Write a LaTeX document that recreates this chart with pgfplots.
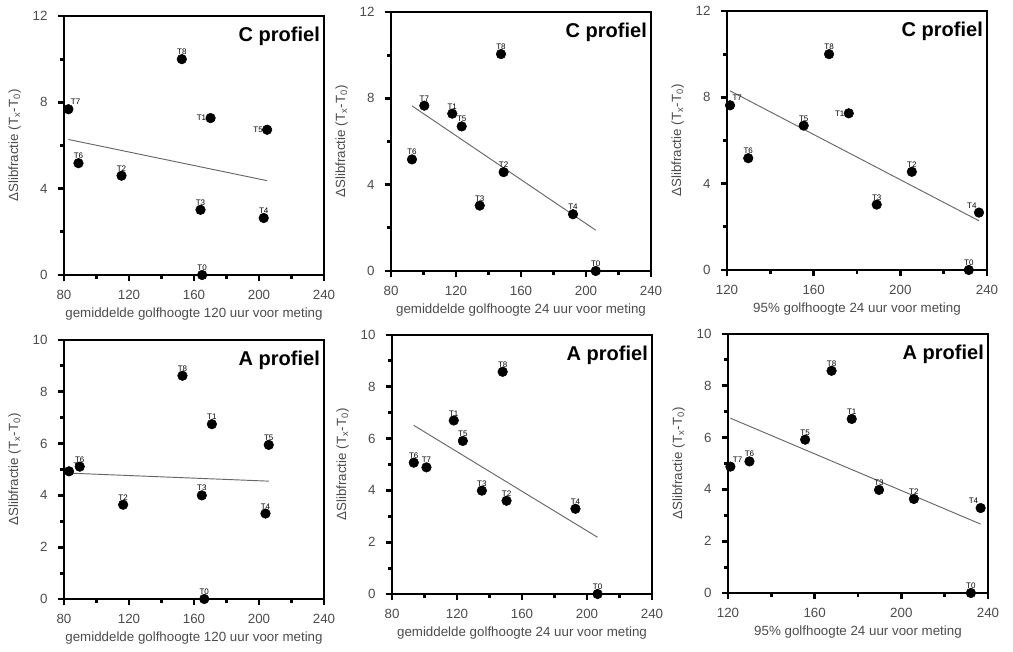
\documentclass[border=0pt]{standalone}
\usepackage{fontspec}
\setmainfont{Liberation Sans}
\usepackage{pgfplots}
\pgfplotsset{compat=1.18}
\definecolor{tickgray}{gray}{0.3}
\pgfplotsset{
 panel/.style={
  scale only axis, width=195pt, height=194.25pt,
  axis line style={line width=2.2pt},
  tick align=outside, xtick pos=bottom, ytick pos=left,
  major tick length=4.8pt, minor tick length=2.8pt,
  every tick/.style={line width=2.2pt, black},
  minor x tick num=1, minor y tick num=1,
  xtick={80,120,160,200,240},
  tick label style={font=\fontsize{10}{12}\selectfont, text=tickgray},
  xticklabel style={yshift=-3pt},
  yticklabel style={xshift=-4pt},
  /pgf/number format/assume math mode=true,
  label style={font=\fontsize{10}{12}\selectfont, text=tickgray},
  ylabel={ΔSlibfractie (T\textsubscript{x}-T\textsubscript{0})},
  ylabel style={at={(axis description cs:-0.19,0.5)}, anchor=center},
  xlabel style={at={(axis description cs:0.5,-0.152)}, anchor=center},
  clip=false,
  anchor=south west,
  after end axis/.append code={\draw[line width=2.2pt,black] (rel axis cs:0,0) rectangle (rel axis cs:1,1);},
 },
 ctop/.style={ymin=0,ymax=12,ytick={0,4,8,12}},
 abot/.style={ymin=0,ymax=10,ytick={0,2,4,6,8,10}},
 pts/.style={only marks, mark=*, mark size=3.6pt, black, mark options={line width=0.4pt},
   nodes near coords, point meta=explicit symbolic,
   visualization depends on={value \thisrow{anc}\as\myanc},
   nodes near coords style={anchor=\myanc, font=\fontsize{6}{6}\selectfont, text=black, inner sep=0.3pt, outer sep=3pt}},
 fitl/.style={black!60, line width=0.7pt, no markers},
}
\newcommand\ptitle[1]{\node[anchor=north east, font=\bfseries\fontsize{15}{15}\selectfont, inner sep=0pt] at (rel axis cs:0.985,0.96) {#1};}
\begin{document}
\begin{tikzpicture}
\path[use as bounding box] (0,0) rectangle (759.75pt,489pt);
% ---------- C, 120 uur
\begin{axis}[panel, ctop, at={(48pt,282.75pt)}, xmin=80, xmax=240,
  xlabel={gemiddelde golfhoogte 120 uur voor meting}]
\addplot[fitl] coordinates {(82.7,6.28) (205,4.37)};
\addplot[pts] table[x=x,y=y,meta=lab] {
x y lab anc
152.5 10.00 T8 270
82.7 7.68 T7 225
170.2 7.27 T1 0
205.0 6.73 T5 0
88.9 5.18 T6 270
115.4 4.60 T2 270
164.0 3.02 T3 270
202.9 2.64 T4 270
165.0 0.00 T0 270
};
\ptitle{C profiel}
\end{axis}
% ---------- C, 24 uur
\begin{axis}[panel, ctop, at={(293.25pt,285.75pt)}, xmin=80, xmax=240,
  xlabel={gemiddelde golfhoogte 24 uur voor meting}]
\addplot[fitl] coordinates {(92.9,7.65) (206,1.89)};
\addplot[pts] table[x=x,y=y,meta=lab] {
x y lab anc
147.7 10.05 T8 270
100.5 7.66 T7 270
117.7 7.29 T1 270
123.5 6.70 T5 270
92.9 5.17 T6 270
149.3 4.58 T2 270
134.6 3.03 T3 270
192.0 2.63 T4 270
206.0 0.00 T0 270
};
\ptitle{C profiel}
\end{axis}
% ---------- C, 95%
\begin{axis}[panel, ctop, at={(545.25pt,286.5pt)}, xmin=120, xmax=240,
  xtick={120,160,200,240},
  xlabel={95\% golfhoogte 24 uur voor meting}]
\addplot[fitl] coordinates {(121.4,8.30) (236.3,2.28)};
\addplot[pts] table[x=x,y=y,meta=lab] {
x y lab anc
167.1 10.00 T8 270
121.4 7.63 T7 225
176.2 7.26 T1 0
155.4 6.69 T5 270
129.8 5.18 T6 270
205.3 4.55 T2 270
189.1 3.03 T3 270
236.3 2.66 T4 315
231.6 0.00 T0 270
};
\ptitle{C profiel}
\end{axis}
% ---------- A, 120 uur
\begin{axis}[panel, abot, at={(48pt,39.75pt)}, xmin=80, xmax=240,
  xlabel={gemiddelde golfhoogte 120 uur voor meting}]
\addplot[fitl] coordinates {(83.1,4.86) (206,4.55)};
\addplot[pts] table[x=x,y=y,meta=lab] {
x y lab anc
152.9 8.62 T8 270
171.0 6.75 T1 270
206.0 5.95 T5 270
83.1 4.93 T7 210
89.7 5.11 T6 270
164.8 4.00 T3 270
116.4 3.64 T2 270
204.0 3.30 T4 270
166.3 0.00 T0 270
};
\ptitle{A profiel}
\end{axis}
% ---------- A, 24 uur
\begin{axis}[panel, abot, at={(294pt,43.5pt)}, xmin=80, xmax=240,
  xlabel={gemiddelde golfhoogte 24 uur voor meting}]
\addplot[fitl] coordinates {(93.4,6.51) (206.5,2.19)};
\addplot[pts] table[x=x,y=y,meta=lab] {
x y lab anc
148.1 8.58 T8 270
118.0 6.70 T1 270
123.6 5.91 T5 270
93.4 5.07 T6 270
101.2 4.89 T7 270
135.3 3.99 T3 270
150.5 3.60 T2 270
192.9 3.29 T4 270
206.5 0.00 T0 270
};
\ptitle{A profiel}
\end{axis}
% ---------- A, 95%
\begin{axis}[panel, abot, at={(546pt,44.25pt)}, xmin=120, xmax=240,
  xtick={120,160,200,240},
  xlabel={95\% golfhoogte 24 uur voor meting}]
\addplot[fitl] coordinates {(121.1,6.75) (236.6,2.66)};
\addplot[pts] table[x=x,y=y,meta=lab] {
x y lab anc
167.8 8.58 T8 270
177.1 6.72 T1 270
155.6 5.92 T5 270
121.1 4.88 T7 225
129.9 5.08 T6 270
189.7 3.98 T3 270
205.8 3.63 T2 270
236.6 3.28 T4 315
232.1 0.00 T0 270
};
\ptitle{A profiel}
\end{axis}
\end{tikzpicture}
\end{document}
